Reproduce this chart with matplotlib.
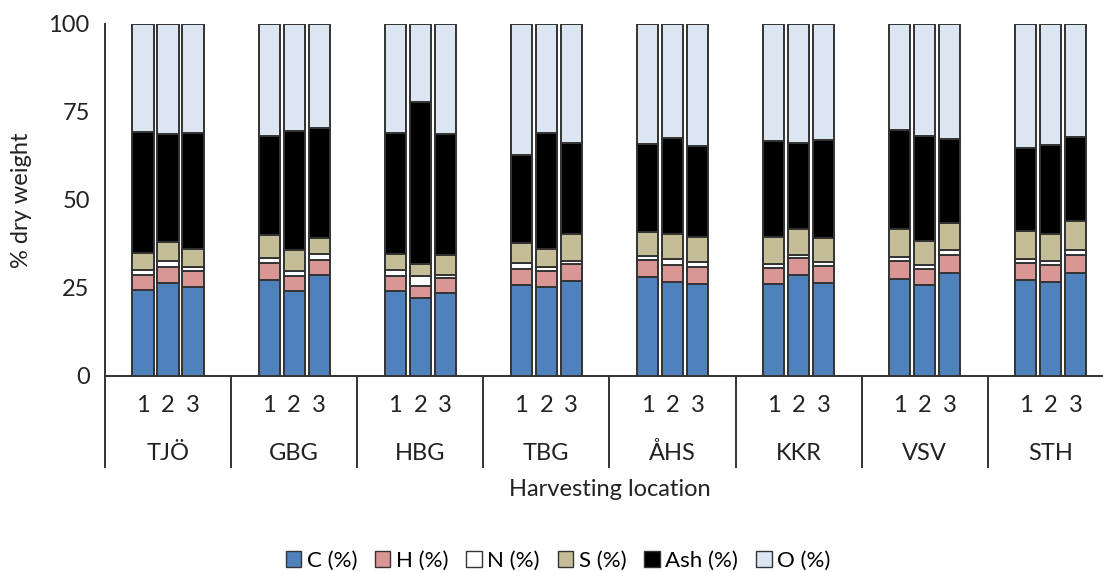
import matplotlib
matplotlib.use("Agg")
import matplotlib.pyplot as plt
import numpy as np
from matplotlib.patches import Patch

plt.rcParams['font.family'] = ['Lato', 'DejaVu Sans']

locations = ["TJÖ", "GBG", "HBG", "TBG", "ÅHS", "KKR", "VSV", "STH"]
replicates = ["1", "2", "3"]

# composition per replicate (3 per location), % dry weight
c_pct = [24.4, 26.4, 25.2, 27.3, 24.2, 28.6, 24.2, 22.3, 23.6, 25.9, 25.4, 26.9,
         28.2, 26.8, 26.1, 26.0, 28.6, 26.4, 27.5, 25.9, 29.4, 27.3, 26.8, 29.4]
h_pct = [4.3, 4.7, 4.5, 4.7, 4.2, 4.4, 4.2, 3.3, 4.1, 4.5, 4.3, 4.8,
         4.8, 4.7, 4.9, 4.8, 4.8, 4.9, 5.2, 4.5, 5.1, 4.9, 4.7, 5.1]
n_pct = [1.4, 1.6, 1.4, 1.6, 1.4, 1.8, 1.6, 2.8, 1.1, 1.6, 1.3, 1.1,
         1.1, 1.6, 1.3, 1.0, 1.1, 1.1, 1.2, 1.1, 1.3, 1.0, 1.2, 1.3]
s_pct = [4.9, 5.4, 5.0, 6.5, 6.0, 4.5, 4.8, 3.3, 5.7, 5.8, 5.2, 7.4,
         6.8, 7.1, 7.3, 7.8, 7.3, 6.9, 7.8, 6.9, 7.8, 8.0, 7.5, 8.2]
ash_pct = [34.3, 30.7, 32.8, 28.2, 33.8, 31.2, 34.2, 46.2, 34.3, 25.1, 32.9, 26.1,
           24.9, 27.4, 25.6, 27.2, 24.3, 27.8, 28.2, 29.9, 23.7, 23.7, 25.4, 24.0]
o_pct = [30.7, 31.2, 31.1, 31.7, 30.4, 29.5, 31.0, 22.1, 31.2, 37.1, 30.9, 33.7,
         34.2, 32.4, 34.8, 33.2, 33.9, 32.9, 30.1, 31.7, 32.7, 35.1, 34.4, 32.0]

series = [
    ("C (%)", c_pct, "#4F81BD"),
    ("H (%)", h_pct, "#D99694"),
    ("N (%)", n_pct, "#FFFFFF"),
    ("S (%)", s_pct, "#C4BD97"),
    ("Ash (%)", ash_pct, "#000000"),
    ("O (%)", o_pct, "#DCE6F2"),
]

W, H = 1103, 572
fig = plt.figure(figsize=(W / 100, H / 100), dpi=100)
group_w = 126.1  # pixels per location group
ax_left, ax_right = 105, W
ax = fig.add_axes([ax_left / W, (H - 376) / H, (ax_right - ax_left) / W, 352 / H])

n_groups = len(locations)
offsets = np.array([-1, 0, 1]) * 0.198
x = np.concatenate([g + 0.5 + offsets for g in range(n_groups)])
bar_w = 0.168

bottom = np.zeros(len(x))
edge = "#333333"
for name, vals, col in series:
    v = np.array(vals)
    ax.bar(x, v, bar_w, bottom=bottom, color=col, edgecolor=edge, linewidth=1.4,
           label=name, zorder=3)
    bottom += v

fs = 17
txt = "#222222"
ax.set_xlim(0, (ax_right - ax_left) / group_w)
ax.set_ylim(0, 100)
ax.set_yticks([0, 25, 50, 75, 100])
ax.tick_params(axis='y', length=0, labelsize=fs, pad=11, colors=txt)
ax.set_xticks(x)
ax.set_xticklabels(replicates * n_groups)
ax.tick_params(axis='x', length=0, labelsize=fs, pad=14, colors=txt)

for side in ("top", "right"):
    ax.spines[side].set_visible(False)
for side in ("left", "bottom"):
    ax.spines[side].set_color("#333333")
    ax.spines[side].set_linewidth(1.4)

# category axis: separators between locations and location names
depth = 92 / 352 * 100
for g in range(n_groups + 1):
    ax.plot([g, g], [0, -depth], color="#333333", lw=1.4, clip_on=False,
            solid_capstyle='butt')
for g, loc in enumerate(locations):
    ax.text(g + 0.5, -(453 - 376) / 352 * 100, loc, ha='center', va='center',
            fontsize=fs, color=txt)

ax.set_ylabel("% dry weight", fontsize=fs, color=txt)
ax.yaxis.set_label_coords(-(105 - 32) / (ax_right - ax_left), 0.5)
fig.text(610 / W, 1 - 490 / H, "Harvesting location", ha='center', va='center',
         fontsize=fs, color=txt)

handles = [Patch(facecolor=col, edgecolor=edge, linewidth=1.0, label=name)
           for name, _, col in series]
fig.legend(handles=handles, loc='center', bbox_to_anchor=(558 / W, 1 - 561 / H),
           ncol=6, frameon=False, fontsize=16, handlelength=0.7, handleheight=0.7,
           handletextpad=0.25, columnspacing=0.8)

fig.savefig("out.png", dpi=100)
